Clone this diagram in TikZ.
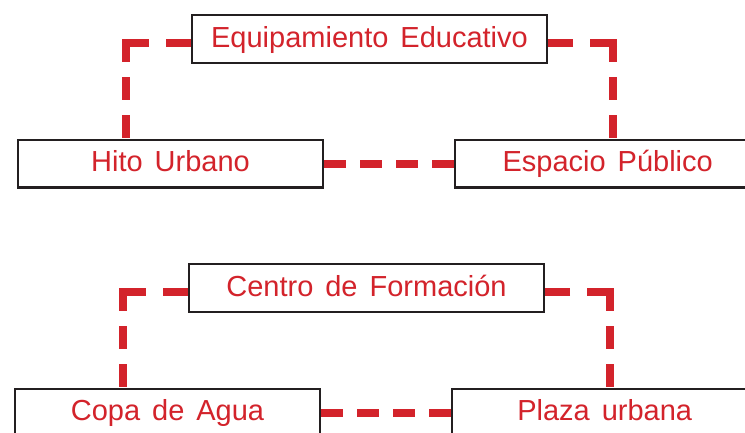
\documentclass[tikz,border=0pt]{standalone}
\usepackage{fontspec}
\setmainfont{Liberation Sans}
\usetikzlibrary{positioning,backgrounds}
\definecolor{linkred}{RGB}{211,35,43}
\definecolor{boxgray}{RGB}{35,31,32}
\newcommand\boxfont{\fontsize{29pt}{34pt}\selectfont\spaceskip 12pt\relax}
\tikzset{
  box/.style={draw=boxgray, line width=2.2pt, fill=white, minimum width=305pt,
    minimum height=47.8pt, inner sep=0pt, text=linkred, font=\boxfont,
    text height=22pt, text depth=6pt},
  widebox/.style={box, minimum width=355pt},
  link/.style={draw=linkred, line width=8pt},
  vleg/.style={link, dash pattern=on 23pt off 15pt},
  hleg/.style={link, dash pattern=on 27pt off 17pt},
  hlink/.style={link, dash pattern=on 22pt off 14pt}
}
\begin{document}
\begin{tikzpicture}[x=1pt,y=-1pt]
		\useasboundingbox (0,0) rectangle (745,432);
		\clip (0,0) rectangle (745,432);
		% upper group
		\node (equip) [widebox] at (369.5,39) {Equipamiento Educativo};
		\node (hito) [box] at (170.5,163.5) {Hito Urbano};
		\node (espacio) [box, right=130pt of hito] {Espacio Público};
		% lower group
		\node (centro) [widebox] at (366.5,288) {Centro de Formación};
		\node (copa) [box] at (167.5,412.5) {Copa de Agua};
		\node (plaza) [box, right=130pt of copa] {Plaza urbana};
		
		\coordinate (c1) at (126,43);
		\coordinate (c2) at (613,43);
		\coordinate (c3) at (123,292);
		\coordinate (c4) at (610,292);
		
		\begin{scope}[on background layer]
		\draw[hleg] ([xshift=-4pt]c1) -- (c1 -| equip.west);
		\draw[vleg] ([yshift=4pt]c1) -- (c1 |- hito.north);
		\draw[hleg] ([xshift=4pt]c2) -- (c2 -| equip.east);
		\draw[vleg] ([yshift=4pt]c2) -- (c2 |- espacio.north);
		\draw[hlink] (hito.east) -- (espacio.west);
		
		\draw[hleg] ([xshift=-4pt]c3) -- (c3 -| centro.west);
		\draw[vleg] ([yshift=4pt]c3) -- (c3 |- copa.north);
		\draw[hleg] ([xshift=4pt]c4) -- (c4 -| centro.east);
		\draw[vleg] ([yshift=4pt]c4) -- (c4 |- plaza.north);
		\draw[hlink] (copa.east) -- (plaza.west);
		\end{scope}
		\end{tikzpicture}
\end{document}
